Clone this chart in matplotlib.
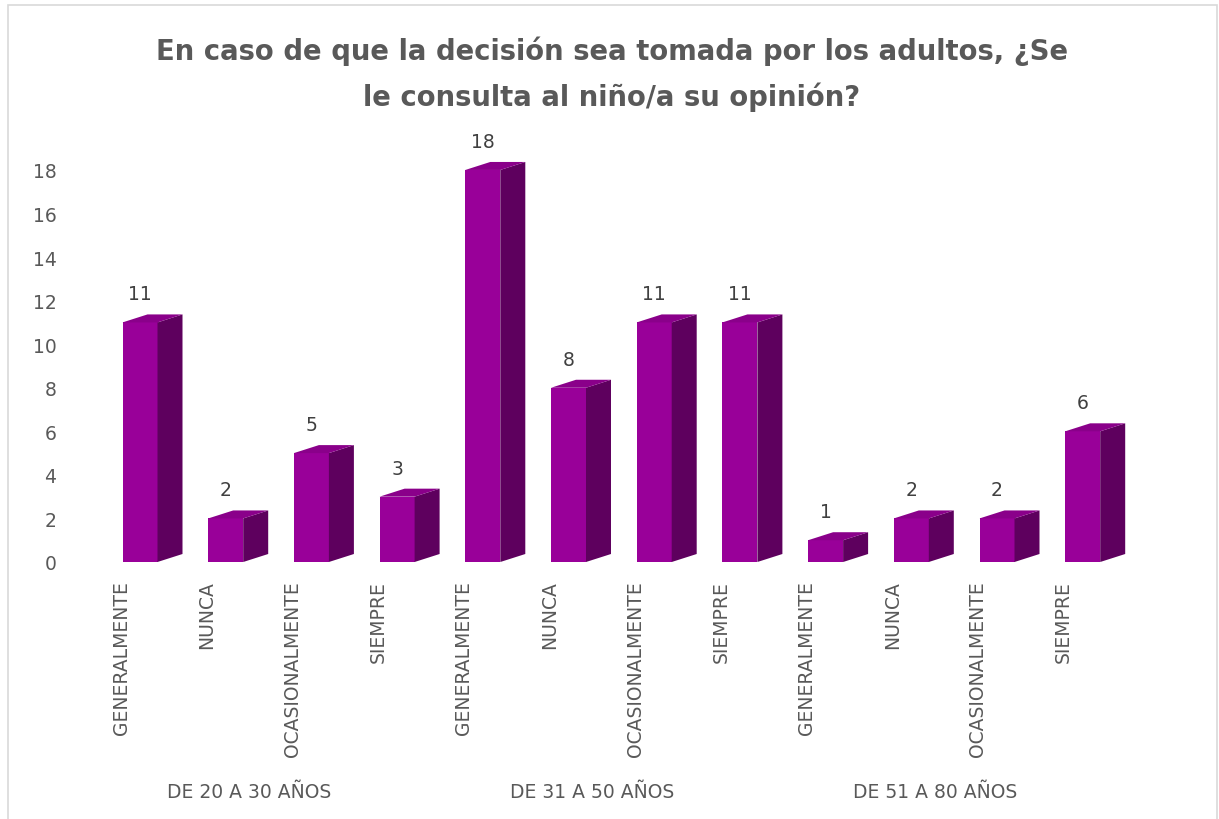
import matplotlib
matplotlib.use("Agg")
import matplotlib.pyplot as plt
from matplotlib.patches import Polygon, Rectangle

plt.rcParams['font.family'] = ['DejaVu Sans']

title = "En caso de que la decisión sea tomada por los adultos, ¿Se\nle consulta al niño/a su opinión?"
groups = ["DE 20 A 30 AÑOS", "DE 31 A 50 AÑOS", "DE 51 A 80 AÑOS"]
answers = ["GENERALMENTE", "NUNCA", "OCASIONALMENTE", "SIEMPRE"]
values_20_30 = [11, 2, 5, 3]
values_31_50 = [18, 8, 11, 11]
values_51_80 = [1, 2, 2, 6]
yticks = [0, 2, 4, 6, 8, 10, 12, 14, 16, 18]

values = values_20_30 + values_31_50 + values_51_80
labels = answers * len(groups)
xs = list(range(len(values)))

W, H = 1219, 820
fig = plt.figure(figsize=(W / 100, H / 100), dpi=100)
fig.patch.set_facecolor("white")

px_per_x = 85.7
px_per_y = 21.78
ax_left_px, ax_right_px = 80, 1180
y0_px = 563
ymax = 20
ax = fig.add_axes([ax_left_px / W, (H - y0_px) / H,
                   (ax_right_px - ax_left_px) / W, ymax * px_per_y / H])
xmin = -(140 - ax_left_px) / px_per_x
ax.set_xlim(xmin, xmin + (ax_right_px - ax_left_px) / px_per_x)
ax.set_ylim(0, ymax)

front_c = "#990099"
side_c = "#5e005e"
top_c = "#8a008a"
bw = 35 / px_per_x
dx = 25 / px_per_x
dy = 8 / px_per_y

ax.bar(xs, values, width=bw, color=front_c, zorder=3, linewidth=0)
for x, v in zip(xs, values):
    l, r = x - bw / 2, x + bw / 2
    side = Polygon([(r, 0), (r + dx, dy), (r + dx, v + dy), (r, v)],
                   closed=True, facecolor=side_c, edgecolor="none", zorder=3)
    top = Polygon([(l, v), (r, v), (r + dx, v + dy), (l + dx, v + dy)],
                  closed=True, facecolor=top_c, edgecolor="none", zorder=3)
    ax.add_patch(side)
    ax.add_patch(top)
    ax.annotate(str(v), xy=(x, v + dy), xytext=(0, 8), textcoords="offset points",
                ha="center", va="bottom", fontsize=13.5, color="#404040", zorder=4)

for s in ax.spines.values():
    s.set_visible(False)

ax.set_yticks(yticks)
ax.set_yticklabels([str(t) for t in yticks])
ax.tick_params(axis="y", length=0, pad=17, labelsize=13.5, labelcolor="#595959")

label_shift = -19 / px_per_x
ax.set_xticks([x + label_shift for x in xs])
ax.set_xticklabels(labels, rotation=90)
ax.tick_params(axis="x", length=0, pad=13, labelsize=13.5, labelcolor="#595959")

for gi, g in enumerate(groups):
    gx = sum(xs[gi * 4:(gi + 1) * 4]) / 4 + label_shift
    ax.text(gx, -230 / px_per_y, g, ha="center", va="center",
            fontsize=13.5, color="#595959")

fig.text(612 / W, 1 - 74 / H, title, ha="center", va="center", multialignment="center",
         fontsize=19.8, fontweight="bold", color="#595959", linespacing=1.72)

fig.patches.append(Rectangle((8 / W, -0.02), (1217 - 8) / W, 1 - 6 / H + 0.02,
                             transform=fig.transFigure, fill=False,
                             edgecolor="#d9d9d9", linewidth=1.2))

fig.savefig("out.png", dpi=100, facecolor="white")
